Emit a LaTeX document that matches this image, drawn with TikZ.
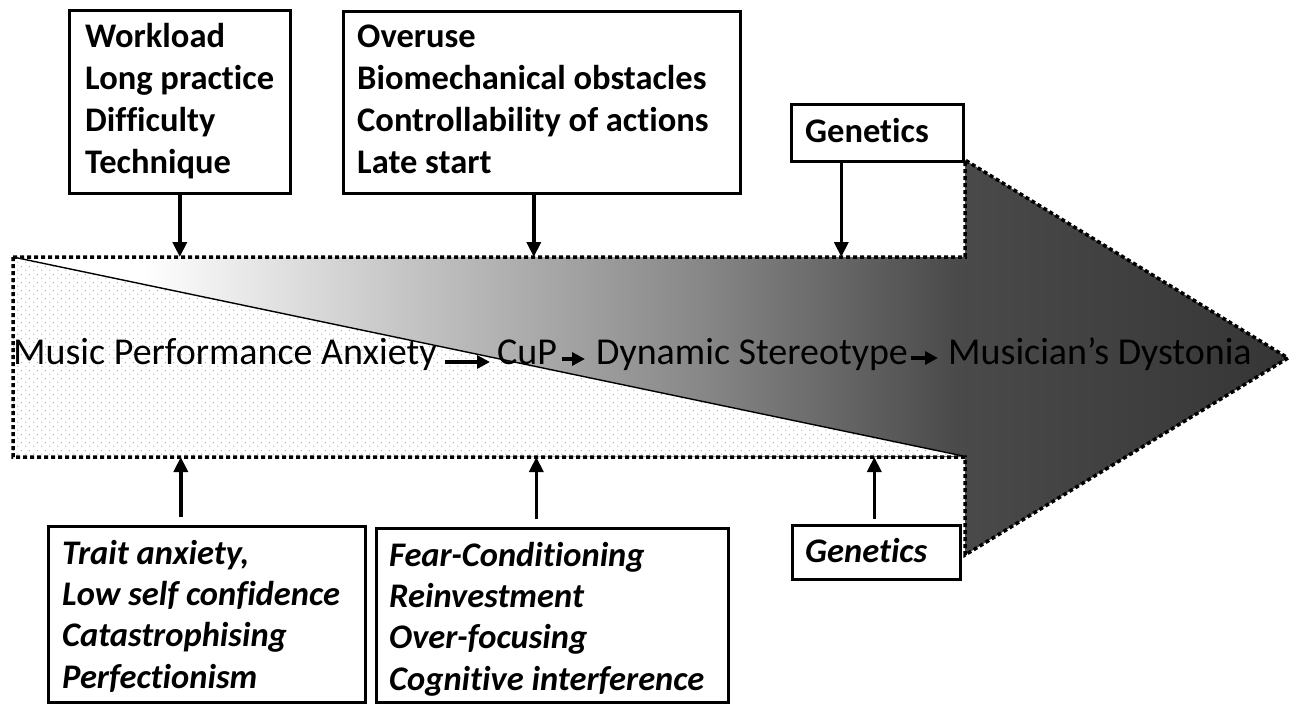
\documentclass[tikz,border=0pt]{standalone}
\usepackage{fontspec}
\setmainfont{Carlito}[Ligatures=NoCommon]
\usetikzlibrary{arrows.meta,patterns.meta,calc}

% grey ramp of the big arrow, white on the left to dark grey at the tip
\pgfdeclarehorizontalshading{arrowgrad}{100bp}{color(0bp)=(white); color(30bp)=(white); color(40bp)=(black!22); color(52bp)=(black!47); color(62bp)=(black!71); color(75bp)=(black!79); color(100bp)=(black!79)}

% sparse staggered dots
\tikzdeclarepattern{
  name=stipple,
  type=uncolored,
  bottom left={(0pt,0pt)},
  top right={(8pt,8pt)},
  tile size={(8pt,8pt)},
  code={
    \pgfpathcircle{\pgfqpoint{2pt}{2pt}}{0.6pt}
    \pgfpathcircle{\pgfqpoint{6pt}{6pt}}{0.6pt}
    \pgfusepath{fill}
  }
}

\begin{document}
\begin{tikzpicture}[x=1pt,y=-1pt,
  outline/.style={line width=3.5pt,dash pattern=on 4pt off 3pt,line join=miter},
  box/.style={draw,line width=2.6pt,rectangle,inner sep=0pt,anchor=north west},
  list/.style={anchor=base west,align=left,inner sep=0pt,font=\fontsize{34.5pt}{41.7pt}\selectfont\bfseries},
  ilist/.style={list,font=\fontsize{34.5pt}{41.3pt}\selectfont\bfseries\itshape},
  term/.style={anchor=base west,inner sep=0pt,font=\fontsize{38pt}{44pt}\selectfont},
  link/.style={line width=4pt,-{Triangle[length=13pt,width=13pt]}},
  feed/.style={line width=3.5pt,-{Triangle[length=15pt,width=14pt]}}
]
\useasboundingbox (0,0) rectangle (1290,704);

% outline of the big arrow
\coordinate (sTL) at (13,257);
\coordinate (sTR) at (965,257);
\coordinate (hT)  at (965,160);
\coordinate (tip) at (1288,358);
\coordinate (hB)  at (965,555);
\coordinate (sBR) at (965,457);
\coordinate (sBL) at (13,457);
\coordinate (dEnd) at (963,456);

\shade[shading=arrowgrad] (sTL) -- (sTR) -- (hT) -- (tip) -- (hB) -- (sBR) -- (sBL) -- cycle;
\fill[white] (sTL) -- (dEnd) -- (sBL) -- cycle;
\fill[pattern=stipple,pattern color=black!45] (sTL) -- (dEnd) -- (sBL) -- cycle;
\draw[line width=1.4pt] (sTL) -- (dEnd);
\draw[outline] (sTL) -- (sTR) -- (hT) -- (tip) -- (hB) -- (sBR) -- (sBL) -- cycle;

% the chain of stages
\node[term] (mpa) at (13,364) {Music Performance Anxiety};
\node[term] (cup) at (497,364) {CuP};
\node[term] (dyn) at (596,364) {Dynamic Stereotype};
\node[term] (md)  at (948,364) {Musician’s Dystonia};
\draw[link] ([xshift=8pt,yshift=2pt]mpa.base east) -- ([xshift=-7pt,yshift=2pt]cup.base west);
\draw[link] ([xshift=5pt,yshift=5pt]cup.base east) -- ([xshift=-11pt,yshift=5pt]dyn.base west);
\draw[link] ([xshift=3pt,yshift=6pt]dyn.base east) -- ([xshift=-10pt,yshift=6pt]md.base west);

% factors above the arrow (text placed by the baseline of its last line)
\node[box,minimum width=221pt,minimum height=183pt] (t1) at (68,9) {};
\node[list] (t1txt) at ([xshift=17pt,yshift=-164pt]t1.north west) {Workload\\Long practice\\Difficulty\\Technique};
\node[box,minimum width=397pt,minimum height=182pt] (t2) at (342,10) {};
\node[list] (t2txt) at ([xshift=15pt,yshift=-163pt]t2.north west) {Overuse\\Biomechanical obstacles\\Controllability of actions\\Late start};
\node[box,minimum width=172pt,minimum height=57pt] (t3) at (790,103) {};
\node[list] (t3txt) at ([xshift=15pt,yshift=-39pt]t3.north west) {Genetics};

\draw[feed] (t1.south) -- (t1.south |- sTL);
\draw[feed] ([xshift=-8pt]t2.south) -- ([xshift=-8pt]t2.south |- sTL);
\draw[feed] ([xshift=-36pt]t3.south) -- ([xshift=-36pt]t3.south |- sTL);

% factors below the arrow
\node[box,minimum width=317pt,minimum height=176pt] (b1) at (47,525) {};
\node[ilist] (b1txt) at ([xshift=15pt,yshift=-163pt]b1.north west) {Trait anxiety,\\Low self confidence\\Catastrophising\\Perfectionism};
\node[box,minimum width=352pt,minimum height=174pt] (b2) at (375,527) {};
\node[ilist] (b2txt) at ([xshift=14pt,yshift=-163pt]b2.north west) {Fear-Conditioning\\Reinvestment\\Over-focusing\\Cognitive interference};
\node[box,minimum width=168pt,minimum height=54pt] (b3) at (791,524) {};
\node[ilist] (b3txt) at ([xshift=14pt,yshift=-38pt]b3.north west) {Genetics};

\draw[feed] ([xshift=-26pt,yshift=8pt]b1.north) -- ([xshift=-26pt]b1.north |- sBL);
\draw[feed] ([xshift=-16pt,yshift=8pt]b2.north) -- ([xshift=-16pt]b2.north |- sBL);
\draw[feed] ([xshift=-2pt,yshift=5pt]b3.north) -- ([xshift=-2pt]b3.north |- sBL);
\end{tikzpicture}
\end{document}
